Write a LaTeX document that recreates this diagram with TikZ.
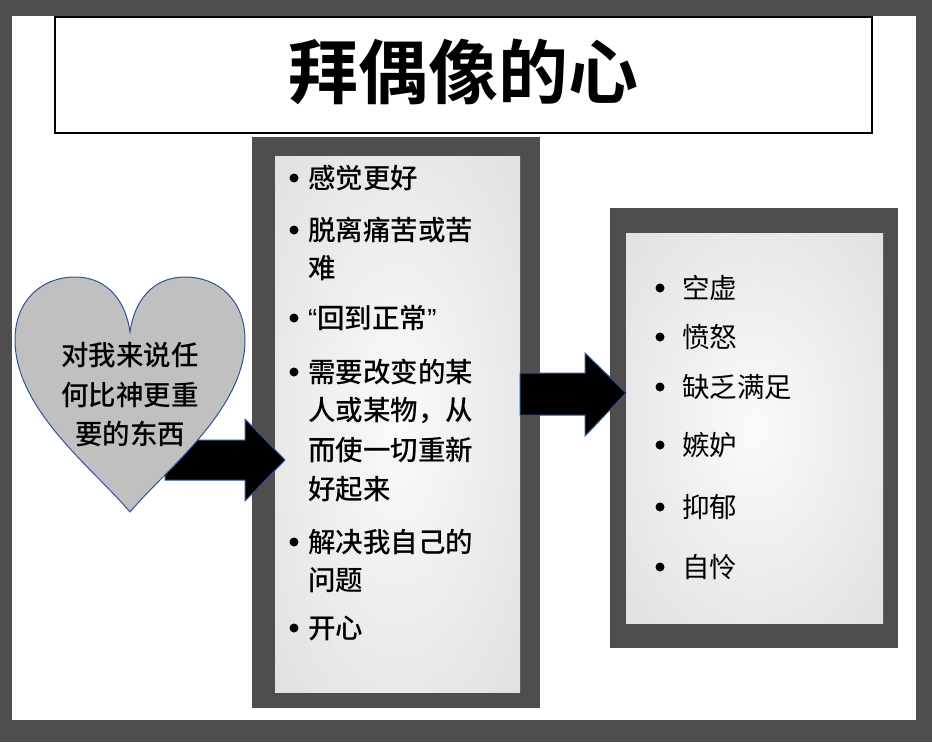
\documentclass[tikz,border=0pt]{standalone}
\usepackage{fontspec}
\newfontfamily\cjk{Noto Sans CJK SC}[BoldFont={Noto Sans CJK SC Bold}]
\newfontfamily\cjkmed{Noto Sans CJK SC Medium}
\newfontfamily\lat{Liberation Sans}
\definecolor{framegray}{HTML}{4F4D4E}
\definecolor{heartfill}{HTML}{C0C0C0}
\definecolor{edgeblue}{HTML}{2F5496}
\definecolor{panelout}{HTML}{DEDFE1}
\definecolor{panelin}{HTML}{FAFAFA}
\pgfdeclareradialshading{panelshade}{\pgfpoint{0bp}{0bp}}{color(0bp)=(panelin); color(38bp)=(panelout); color(60bp)=(panelout)}
\begin{document}
\begin{tikzpicture}[x=1pt,y=-1pt,
  mtxt/.style={inner sep=0pt, anchor=west, font=\cjkmed\fontsize{27.5}{32}\selectfont},
  rtxt/.style={inner sep=0pt, anchor=west, font=\cjk\fontsize{27.5}{32}\selectfont},
  htxt/.style={inner sep=0pt, font=\cjkmed\fontsize{27.5}{32}\selectfont},
  dot/.style={circle, fill=black, inner sep=0pt, minimum size=9pt},
  blockarrow/.style={fill=black, draw=edgeblue, line width=1pt, line join=miter},
  panel/.style={shading=panelshade}]
\useasboundingbox (0,0) rectangle (932,742);
\fill[framegray] (0,0) rectangle (932,742);
\fill[white] (12,16) rectangle (916,720);
% title
\draw[line width=1.5pt, fill=white] (55,17) rectangle (872,133);
\node[font=\cjk\bfseries\fontsize{70}{74}\selectfont, inner sep=0pt] (title) at (463,72) {拜偶像的心};
% middle box
\fill[framegray] (252,137) rectangle (540,708);
\shade[panel] (275,156) rectangle (520,692);
% right box
\fill[framegray] (610,208) rectangle (898,648);
\shade[panel] (626,233) rectangle (883,623);
% arrows
\draw[blockarrow] (165,440) -- (245,440) -- (245,419) -- (285,460) -- (245,501) -- (245,480) -- (165,480) -- cycle;
\draw[blockarrow] (520,373) -- (585,373) -- (585,353) -- (626,393) -- (585,436) -- (585,415) -- (520,415) -- cycle;
% heart
\draw[fill=heartfill, draw=edgeblue, line width=1pt]
  (130,512) .. controls (95,470) and (15,410) .. (15,340)
  .. controls (15,300) and (42,277) .. (75,277)
  .. controls (108,277) and (126,302) .. (130,332)
  .. controls (134,302) and (152,277) .. (185,277)
  .. controls (218,277) and (245,300) .. (245,340)
  .. controls (245,410) and (165,470) .. (130,512) -- cycle;
\node[htxt] (h1) at (130,355) {对我来说任};
\node[htxt] (h2) at (130,395) {何比神更重};
\node[htxt] (h3) at (130,434) {要的东西};
% middle list
\foreach \y/\n in {178/a,230/b,318/c,372/d,542/e,628/f}
  \node[dot] (md\n) at (294,\y) {};
\node[mtxt] (m1) at (308,178) {感觉更好};
\node[mtxt] (m2) at (308,230) {脱离痛苦或苦};
\node[mtxt] (m3) at (308,268) {难};
\node[mtxt] (m4) at (308,318) {{\lat “}回到正常{\lat ”}};
\node[mtxt] (m5) at (308,372) {需要改变的某};
\node[mtxt] (m6) at (308,411) {人或某物，从};
\node[mtxt] (m7) at (308,450) {而使一切重新};
\node[mtxt] (m8) at (308,489) {好起来};
\node[mtxt] (m9) at (308,542) {解决我自己的};
\node[mtxt] (m10) at (308,580) {问题};
\node[mtxt] (m11) at (308,628) {开心};
% right list
\foreach \y/\t/\n in {288/空虚/1,337/愤怒/2,387/缺乏满足/3,445/嫉妒/4,507/抑郁/5,567/自怜/6}{
  \node[dot] (rd\n) at (660,\y) {};
  \node[rtxt] (r\n) at (682,\y) {\t};
}
\end{tikzpicture}
\end{document}
